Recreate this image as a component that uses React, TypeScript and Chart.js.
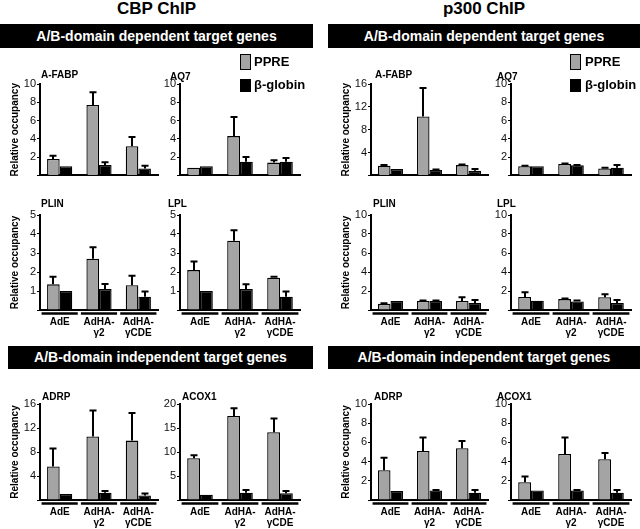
import React, { useEffect, useRef } from "react";
import { Chart, registerables } from "chart.js";
Chart.register(...registerables);

const FONT = "'Liberation Sans', Arial, Helvetica, sans-serif";
const GREY = "#a4a4a4";

// ---------- text / categories ----------
const categories = [["AdE"], ["AdHA-", "γ2"], ["AdHA-", "γCDE"]];
const seriesLabels = ["PPRE", "β-globin"];
const yAxisTitle = "Relative occupancy";
const sideTitles = ["CBP ChIP", "p300 ChIP"];
const bannerTitles = ["A/B-domain dependent target genes", "A/B-domain independent target genes"];

// ---------- CBP ChIP ----------
const cbpAfabpPPRE = [1.8, 7.7, 3.2];
const cbpAfabpPPREErr = [0.35, 1.4, 1.0];
const cbpAfabpGlobin = [1.0, 1.15, 0.75];
const cbpAfabpGlobinErr = [0, 0.3, 0.3];

const cbpAq7PPRE = [0.85, 4.3, 1.4];
const cbpAq7PPREErr = [0, 2.1, 0.25];
const cbpAq7Globin = [1.0, 1.5, 1.5];
const cbpAq7GlobinErr = [0, 0.5, 0.4];

const cbpPlinPPRE = [1.35, 2.7, 1.3];
const cbpPlinPPREErr = [0.4, 0.6, 0.5];
const cbpPlinGlobin = [1.0, 1.1, 0.7];
const cbpPlinGlobinErr = [0, 0.27, 0.28];

const cbpLplPPRE = [2.1, 3.65, 1.7];
const cbpLplPPREErr = [0.45, 0.55, 0.05];
const cbpLplGlobin = [1.0, 1.1, 0.7];
const cbpLplGlobinErr = [0, 0.25, 0.28];

const cbpAdrpPPRE = [5.6, 10.6, 9.9];
const cbpAdrpPPREErr = [3.0, 4.3, 4.6];
const cbpAdrpGlobin = [1.0, 1.2, 0.75];
const cbpAdrpGlobinErr = [0, 0.3, 0.35];

const cbpAcox1PPRE = [8.7, 17.5, 14.1];
const cbpAcox1PPREErr = [0.6, 1.6, 2.9];
const cbpAcox1Globin = [1.1, 1.5, 1.4];
const cbpAcox1GlobinErr = [0, 0.6, 0.5];

// ---------- p300 ChIP ----------
const p300AfabpPPRE = [1.7, 10.3, 1.8];
const p300AfabpPPREErr = [0.1, 5.0, 0.1];
const p300AfabpGlobin = [1.1, 0.95, 0.8];
const p300AfabpGlobinErr = [0, 0.1, 0.3];

const p300Aq7PPRE = [1.0, 1.25, 0.75];
const p300Aq7PPREErr = [0.05, 0.05, 0.1];
const p300Aq7Globin = [1.0, 1.1, 0.85];
const p300Aq7GlobinErr = [0, 0.05, 0.3];

const p300PlinPPRE = [0.65, 0.95, 0.95];
const p300PlinPPREErr = [0.07, 0.05, 0.4];
const p300PlinGlobin = [0.95, 0.95, 0.75];
const p300PlinGlobinErr = [0, 0.05, 0.3];

const p300LplPPRE = [1.38, 1.15, 1.35];
const p300LplPPREErr = [0.5, 0.05, 0.3];
const p300LplGlobin = [0.98, 0.9, 0.75];
const p300LplGlobinErr = [0, 0.1, 0.3];

const p300AdrpPPRE = [3.1, 5.1, 5.4];
const p300AdrpPPREErr = [1.3, 1.4, 0.75];
const p300AdrpGlobin = [0.95, 1.0, 0.75];
const p300AdrpGlobinErr = [0, 0.05, 0.3];

const p300Acox1PPRE = [1.85, 4.8, 4.25];
const p300Acox1PPREErr = [0.6, 1.7, 0.65];
const p300Acox1Globin = [1.0, 1.0, 0.75];
const p300Acox1GlobinErr = [0, 0.05, 0.3];

// ---------- layout (page pixels) ----------
const COLS: Record<string, [number, number]> = {
  cbpL: [40, 158],
  cbpR: [180, 300],
  p3L: [371, 488],
  p3R: [511, 631],
};
const ROWS: Record<string, [number, number]> = {
  top: [84, 180],
  mid: [215, 310],
  bot: [404, 500],
};

type PanelDef = {
  title: string;
  ppre: number[];
  ppreErr: number[];
  globin: number[];
  globinErr: number[];
  max: number;
  step: number;
  col: string;
  row: string;
  titlePos: [number, number];
};

const panels: PanelDef[] = [
  { title: "A-FABP", ppre: cbpAfabpPPRE, ppreErr: cbpAfabpPPREErr, globin: cbpAfabpGlobin, globinErr: cbpAfabpGlobinErr, max: 10, step: 2, col: "cbpL", row: "top", titlePos: [41, 75] },
  { title: "AQ7", ppre: cbpAq7PPRE, ppreErr: cbpAq7PPREErr, globin: cbpAq7Globin, globinErr: cbpAq7GlobinErr, max: 10, step: 2, col: "cbpR", row: "top", titlePos: [170, 77] },
  { title: "PLIN", ppre: cbpPlinPPRE, ppreErr: cbpPlinPPREErr, globin: cbpPlinGlobin, globinErr: cbpPlinGlobinErr, max: 5, step: 1, col: "cbpL", row: "mid", titlePos: [41, 204] },
  { title: "LPL", ppre: cbpLplPPRE, ppreErr: cbpLplPPREErr, globin: cbpLplGlobin, globinErr: cbpLplGlobinErr, max: 5, step: 1, col: "cbpR", row: "mid", titlePos: [168, 204] },
  { title: "ADRP", ppre: cbpAdrpPPRE, ppreErr: cbpAdrpPPREErr, globin: cbpAdrpGlobin, globinErr: cbpAdrpGlobinErr, max: 16, step: 4, col: "cbpL", row: "bot", titlePos: [42, 397] },
  { title: "ACOX1", ppre: cbpAcox1PPRE, ppreErr: cbpAcox1PPREErr, globin: cbpAcox1Globin, globinErr: cbpAcox1GlobinErr, max: 20, step: 5, col: "cbpR", row: "bot", titlePos: [182, 397] },
  { title: "A-FABP", ppre: p300AfabpPPRE, ppreErr: p300AfabpPPREErr, globin: p300AfabpGlobin, globinErr: p300AfabpGlobinErr, max: 16, step: 4, col: "p3L", row: "top", titlePos: [375, 75] },
  { title: "AQ7", ppre: p300Aq7PPRE, ppreErr: p300Aq7PPREErr, globin: p300Aq7Globin, globinErr: p300Aq7GlobinErr, max: 10, step: 2, col: "p3R", row: "top", titlePos: [497, 77] },
  { title: "PLIN", ppre: p300PlinPPRE, ppreErr: p300PlinPPREErr, globin: p300PlinGlobin, globinErr: p300PlinGlobinErr, max: 10, step: 2, col: "p3L", row: "mid", titlePos: [373, 204] },
  { title: "LPL", ppre: p300LplPPRE, ppreErr: p300LplPPREErr, globin: p300LplGlobin, globinErr: p300LplGlobinErr, max: 10, step: 2, col: "p3R", row: "mid", titlePos: [497, 204] },
  { title: "ADRP", ppre: p300AdrpPPRE, ppreErr: p300AdrpPPREErr, globin: p300AdrpGlobin, globinErr: p300AdrpGlobinErr, max: 10, step: 2, col: "p3L", row: "bot", titlePos: [374, 397] },
  { title: "ACOX1", ppre: p300Acox1PPRE, ppreErr: p300Acox1PPREErr, globin: p300Acox1Globin, globinErr: p300Acox1GlobinErr, max: 10, step: 2, col: "p3R", row: "bot", titlePos: [497, 397] },
];

// ---------- plugins ----------
const errorBarPlugin = {
  id: "errorBars",
  afterDatasetsDraw(chart: any) {
    const { ctx } = chart;
    const ys = chart.scales.y;
    chart.data.datasets.forEach((ds: any, di: number) => {
      const meta = chart.getDatasetMeta(di);
      const errs: number[] = ds.errors || [];
      meta.data.forEach((bar: any, i: number) => {
        const v = ds.data[i];
        const e = errs[i];
        if (!e) return;
        const x = Math.round(bar.x);
        const y0 = ys.getPixelForValue(v);
        const y1 = ys.getPixelForValue(v + e);
        ctx.save();
        ctx.strokeStyle = "#000";
        ctx.lineWidth = 2;
        ctx.beginPath();
        ctx.moveTo(x, y0);
        ctx.lineTo(x, y1);
        ctx.moveTo(x - 3.5, y1);
        ctx.lineTo(x + 3.5, y1);
        ctx.stroke();
        ctx.restore();
      });
    });
  },
};

const underlinePlugin = {
  id: "groupUnderline",
  afterDraw(chart: any, _args: any, opts: any) {
    if (!opts || !opts.show) return;
    const { ctx, chartArea } = chart;
    const xs = chart.scales.x;
    const n = chart.data.labels.length;
    const half = (xs.width / n) * 0.46;
    ctx.save();
    ctx.strokeStyle = "#000";
    ctx.lineWidth = 2.5;
    for (let i = 0; i < n; i++) {
      const cx = xs.getPixelForValue(i);
      ctx.beginPath();
      ctx.moveTo(cx - half, chartArea.bottom + 3.5);
      ctx.lineTo(cx + half, chartArea.bottom + 3.5);
      ctx.stroke();
    }
    ctx.restore();
  },
};

function BarPanel({ def }: { def: PanelDef }) {
  const ref = useRef<HTMLCanvasElement | null>(null);
  const [l, r] = COLS[def.col];
  const [t, b] = ROWS[def.row];
  const yTitle = def.col === "cbpL" || def.col === "p3L";
  const showX = def.row !== "top";
  const YW = yTitle ? 40 : 32;
  const TP = 8;
  const RP = 4;
  const XH = showX ? 36 : 3;
  const cw = r - l + YW + RP;
  const ch = b - t + TP + XH;

  useEffect(() => {
    if (!ref.current) return;
    const chart = new Chart(ref.current, {
      type: "bar",
      data: {
        labels: categories,
        datasets: [
          {
            label: seriesLabels[0],
            data: def.ppre,
            errors: def.ppreErr,
            backgroundColor: GREY,
            borderColor: "#000",
            borderWidth: 1.3,
          } as any,
          {
            label: seriesLabels[1],
            data: def.globin,
            errors: def.globinErr,
            backgroundColor: "#000",
            borderColor: "#000",
            borderWidth: 1.3,
          } as any,
        ],
      },
      options: {
        responsive: false,
        animation: false,
        devicePixelRatio: 1,
        layout: { padding: { left: 0, right: RP, top: TP, bottom: 0 } },
        datasets: { bar: { categoryPercentage: 0.64, barPercentage: 1.0 } },
        plugins: {
          legend: { display: false },
          tooltip: { enabled: false },
          title: { display: false },
          groupUnderline: { show: showX },
        } as any,
        scales: {
          x: {
            grid: { display: false, drawTicks: false },
            border: { display: true, color: "#000", width: 2 },
            ticks: {
              display: showX,
              padding: 7,
              color: "#000",
              maxRotation: 0,
              autoSkip: false,
              font: { family: FONT, size: 10, weight: "bold", lineHeight: 1.1 },
            },
            afterFit: (s: any) => {
              s.height = XH;
            },
          },
          y: {
            min: 0,
            max: def.max,
            grid: { display: true, drawOnChartArea: false, drawTicks: true, tickLength: 3, color: "#000", lineWidth: 1 },
            border: { display: true, color: "#000", width: 2 },
            ticks: {
              stepSize: def.step,
              padding: 1,
              color: "#111",
              font: { family: FONT, size: 11 },
              callback: (v: any) => (Number(v) === 0 ? "" : String(v)),
            },
            title: {
              display: yTitle,
              text: yAxisTitle,
              color: "#000",
              padding: { top: 9, bottom: 0 },
              font: { family: FONT, size: 10, weight: "bold" },
            },
            afterFit: (s: any) => {
              s.width = YW;
            },
          },
        },
      },
      plugins: [errorBarPlugin, underlinePlugin],
    } as any);
    return () => chart.destroy();
  }, []);

  return (
    <canvas
      ref={ref}
      width={cw}
      height={ch}
      style={{ position: "absolute", left: l - YW, top: t - TP, width: cw, height: ch }}
    />
  );
}

function Legend({ x, textX }: { x: number; textX: number }) {
  const txt: React.CSSProperties = {
    position: "absolute",
    left: textX,
    fontFamily: FONT,
    fontWeight: "bold",
    fontSize: 13,
    lineHeight: "14px",
    color: "#000",
    whiteSpace: "nowrap",
  };
  return (
    <>
      <div style={{ position: "absolute", left: x, top: 54, width: 9, height: 14, background: GREY, border: "1px solid #000" }} />
      <div style={{ ...txt, top: 55 }}>{seriesLabels[0]}</div>
      <div style={{ position: "absolute", left: x, top: 79, width: 11, height: 13, background: "#000" }} />
      <div style={{ ...txt, top: 78 }}>{seriesLabels[1]}</div>
    </>
  );
}

export default function App() {
  const banner = (left: number, top: number, width: number, height: number, text: string) => (
    <div
      style={{
        position: "absolute",
        left,
        top,
        width,
        height,
        background: "#000",
        color: "#fff",
        fontFamily: FONT,
        fontWeight: "bold",
        fontSize: 14,
        lineHeight: height + "px",
        textAlign: "center",
        whiteSpace: "nowrap",
      }}
    >
      {text}
    </div>
  );
  return (
    <div style={{ position: "fixed", left: 0, top: 0, width: 640, height: 529, background: "#fff", overflow: "hidden" }}>
      {panels.map((p, i) => (
        <BarPanel key={i} def={p} />
      ))}
      <div style={{ position: "absolute", left: 0, top: -1, width: 313, textAlign: "center", fontFamily: FONT, fontWeight: "bold", fontSize: 17, lineHeight: "20px" }}>
        {sideTitles[0]}
      </div>
      <div style={{ position: "absolute", left: 328, top: -1, width: 312, textAlign: "center", fontFamily: FONT, fontWeight: "bold", fontSize: 17, lineHeight: "20px" }}>
        {sideTitles[1]}
      </div>
      {banner(0, 24, 313, 24, bannerTitles[0])}
      {banner(328, 24, 312, 24, bannerTitles[0])}
      {banner(8, 346, 305, 23, bannerTitles[1])}
      {banner(328, 346, 312, 23, bannerTitles[1])}
      {panels.map((p, i) => (
        <div
          key={"t" + i}
          style={{
            position: "absolute",
            left: p.titlePos[0],
            top: p.titlePos[1] - 7,
            fontFamily: FONT,
            fontWeight: "bold",
            fontSize: 10,
            lineHeight: "14px",
            color: "#000",
            whiteSpace: "nowrap",
          }}
        >
          {p.title}
        </div>
      ))}
      <Legend x={240} textX={254} />
      <Legend x={570} textX={585} />
    </div>
  );
}
